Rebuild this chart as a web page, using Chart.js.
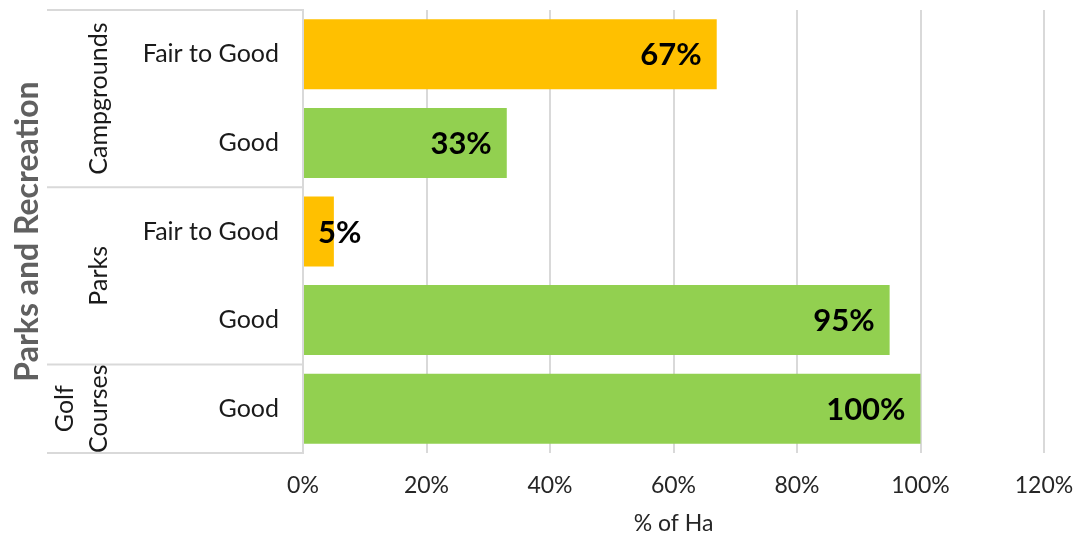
<!DOCTYPE html>
<html>
<head>
<meta charset="utf-8">
<script src="https://cdn.jsdelivr.net/npm/chart.js@4.4.1/dist/chart.umd.min.js"></script>
<style>
  html, body { margin: 0; padding: 0; background: #ffffff; }
  #wrap { width: 1080px; height: 538px; position: relative; }
</style>
</head>
<body>
<div id="wrap"><canvas id="chart" width="1080" height="538"></canvas></div>
<script>
// Facility groups, condition ratings and share of hectares (%)
const sectorName = 'Parks and Recreation';
const groups = ['Campgrounds', 'Campgrounds', 'Parks', 'Parks', 'Golf Courses'];
const conditions = ['Fair to Good', 'Good', 'Fair to Good', 'Good', 'Good'];
const shares = [67, 33, 5, 95, 100];
const xTicks = [0, 20, 40, 60, 80, 100, 120];
const xTitle = '% of Ha';

const conditionColors = { 'Fair to Good': '#FFC000', 'Good': '#92D050' };
const FONT = 'Lato, "Open Sans", sans-serif';
const LINE = '#d9d9d9';

// Group labels, grouping separators and value labels
const groupPlugin = {
  id: 'groupAxis',
  afterDraw(chart) {
    const { ctx, chartArea } = chart;
    const y = chart.scales.y;
    const n = conditions.length;
    const pos = i => y.getPixelForTick(i);
    const half = (pos(1) - pos(0)) / 2;

    // spans of consecutive equal group names
    const spans = [];
    groups.forEach((g, i) => {
      const last = spans[spans.length - 1];
      if (last && last.name === g) last.end = i; else spans.push({ name: g, start: i, end: i });
    });

    ctx.save();
    ctx.strokeStyle = LINE;
    ctx.lineWidth = 2;
    const x0 = 47;
    const edges = [chartArea.top];
    spans.forEach(s => edges.push(s.end === n - 1 ? chartArea.bottom : pos(s.end) + half));
    edges.forEach(e => {
      ctx.beginPath();
      ctx.moveTo(x0, e);
      ctx.lineTo(chartArea.left, e);
      ctx.stroke();
    });

    // rotated group names; a single-row group wraps onto two lines
    ctx.fillStyle = '#1a1a1a';
    ctx.font = '25px ' + FONT;
    ctx.textAlign = 'center';
    ctx.textBaseline = 'middle';
    spans.forEach(s => {
      const cy = (pos(s.start) + pos(s.end)) / 2;
      const words = s.start === s.end ? s.name.split(' ') : [s.name];
      const lh = 34;
      ctx.save();
      ctx.translate(99 - (words.length - 1) * lh, cy);
      ctx.rotate(-Math.PI / 2);
      words.forEach((w, k) => ctx.fillText(w, 0, k * lh));
      ctx.restore();
    });

    // value labels at the inside end of each bar
    const meta = chart.getDatasetMeta(0);
    ctx.font = 'bold 31px ' + FONT;
    ctx.fillStyle = '#000000';
    ctx.textAlign = 'right';
    meta.data.forEach((bar, i) => {
      const txt = shares[i] + '%';
      const w = ctx.measureText(txt).width;
      const x = Math.max(bar.x - 15, bar.base + 14 + w);
      ctx.fillText(txt, x, bar.y + 1);
    });
    ctx.restore();
  }
};

new Chart(document.getElementById('chart'), {
  type: 'bar',
  data: {
    labels: conditions,
    datasets: [{
      data: shares,
      backgroundColor: conditions.map(c => conditionColors[c]),
      borderWidth: 0,
      categoryPercentage: 1,
      barPercentage: 0.79
    }]
  },
  options: {
    indexAxis: 'y',
    responsive: false,
    animation: false,
    events: [],
    layout: { padding: { top: 10, right: 36, bottom: 0, left: 0 } },
    plugins: { legend: { display: false }, tooltip: { enabled: false } },
    scales: {
      x: {
        min: 0,
        max: 120,
        afterBuildTicks: s => { s.ticks = xTicks.map(v => ({ value: v })); },
        afterFit: s => { s.height = 85; s.paddingLeft = 0; s.paddingRight = 0; },
        ticks: {
          callback: v => v + '%',
          color: '#262626',
          font: { family: FONT, size: 23 },
          padding: 19,
          maxRotation: 0
        },
        grid: { color: LINE, lineWidth: 2, drawTicks: false },
        border: { display: false },
        title: {
          display: true,
          text: xTitle,
          color: '#262626',
          font: { family: FONT, size: 23 },
          padding: { top: 0, bottom: 1 }
        }
      },
      y: {
        afterFit: s => { s.width = 303; s.paddingTop = 0; s.paddingBottom = 0; },
        ticks: {
          color: '#1a1a1a',
          font: { family: FONT, size: 25 },
          padding: 24
        },
        grid: { display: false, drawTicks: false },
        border: { display: true, color: LINE, width: 2 },
        title: {
          display: true,
          text: sectorName,
          color: '#606060',
          font: { family: FONT, size: 32, weight: 'bold' },
          padding: { top: 8, bottom: 0 }
        }
      }
    }
  },
  plugins: [groupPlugin]
});
</script>
</body>
</html>
